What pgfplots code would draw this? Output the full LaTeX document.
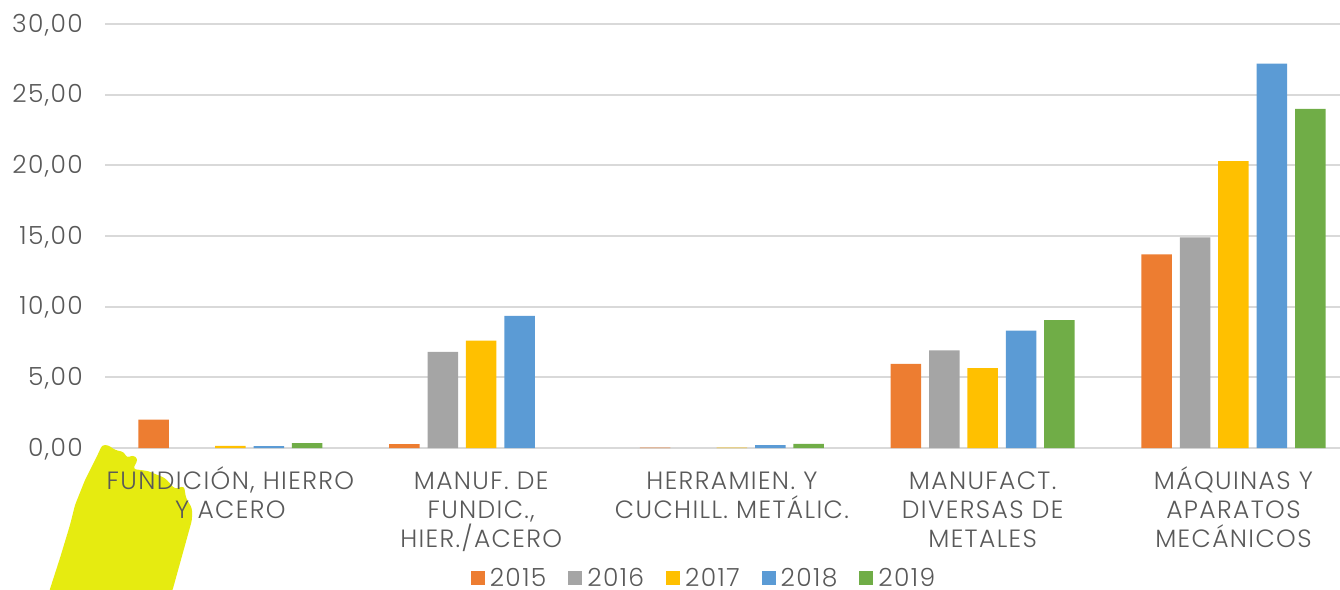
\documentclass[border=0pt]{standalone}
\usepackage{pgfplots}
\pgfplotsset{compat=1.18}
\usepackage{fontspec}
\setmainfont{Poppins Light}[LetterSpace=5.5]
\definecolor{c15}{HTML}{ED7D31}
\definecolor{c16}{HTML}{A5A5A5}
\definecolor{c17}{HTML}{FFC000}
\definecolor{c18}{HTML}{5B9BD5}
\definecolor{c19}{HTML}{70AD47}
\definecolor{gridc}{HTML}{D9D9D9}
\definecolor{txt}{HTML}{595959}
\definecolor{blob}{HTML}{E6EB10}
\newcommand{\ls}{\rule{0pt}{32pt}}
\pgfplotsset{common/.style={
  at={(105pt,-448pt)},anchor=south west,
  width=1235pt,height=424pt,scale only axis,
  xmin=-0.5,xmax=4.425,ymin=0,ymax=30,
  clip=false,
}}
\begin{document}
\begin{tikzpicture}[x=1pt,y=1pt]
\useasboundingbox (0,-589) rectangle (1340,0);
\begin{axis}[common,
  ybar,
  axis x line*=bottom, axis y line*=left,
  x axis line style={draw=gridc,line width=2.4pt,-},
  y axis line style={draw=none},
  tick style={draw=none},
  grid=none, ymajorgrids=true,
  grid style={draw=gridc,line width=2pt},
  ytick={0,5,10,15,20,25,30},
  xtick=\empty,
  yticklabel style={text=txt,font=\fontsize{25}{29}\selectfont,inner sep=0pt,anchor=east,xshift=-22pt,yshift=-1pt},
  /pgf/number format/.cd,fixed,fixed zerofill,precision=2,use comma,assume math mode=true,
  /pgfplots/.cd,
  bar width=30.5pt,
  legend style={at={(0.485,-0.307)},anchor=center,draw=none,fill=none,
    legend columns=-1,font=\fontsize{25}{29}\selectfont,text=txt,inner sep=0pt,
    /tikz/every even column/.style={column sep=20pt},
    /tikz/every odd column/.style={column sep=3pt}},
  legend image code/.code={\fill[#1] (0pt,-7pt) rectangle (14pt,7pt);},
]
\addplot[fill=c15,draw=none,bar shift=-76.8pt] coordinates {(0,2.0)(1,0.27)(2,0.03)(3,5.95)(4,13.7)};
\addplot[fill=c16,draw=none,bar shift=-38.4pt] coordinates {(1,6.8)(3,6.9)(4,14.9)};
\addplot[fill=c17,draw=none,bar shift=0pt] coordinates {(0,0.15)(1,7.6)(2,0.03)(3,5.65)(4,20.3)};
\addplot[fill=c18,draw=none,bar shift=38.4pt] coordinates {(0,0.13)(1,9.35)(2,0.2)(3,8.3)(4,27.2)};
\addplot[fill=c19,draw=none,bar shift=76.8pt] coordinates {(0,0.35)(2,0.3)(3,9.05)(4,24.0)};
\legend{2015,2016,2017,2018,2019}
\end{axis}
\begin{scope}[y=-1pt]
\fill[blob,rounded corners=3pt] (99,452)--(102,445)--(108,445)--(115,450)--(124,452)--(127,458)--(133,455)--(138,459)--(133,469)--(148,471)--(165,478)--(175,489)--(184,486)--(186,498)--(192,508)--(192,520)--(172,592)--(49,592)--(60,558)--(70,525)--(75,505)--(85,480)--cycle;
\end{scope}
\begin{axis}[common,
  axis y line=none,
  axis x line=bottom,
  x axis line style={draw=none,-},
  tick style={draw=none},
  ytick=\empty,
  xtick={0,1,2,3,4},
  xticklabels={{\ls FUNDICIÓN, HIERRO\\Y ACERO},{\ls MANUF. DE\\FUNDIC.,\\HIER./ACERO},{\ls HERRAMIEN. Y\\CUCHILL. METÁLIC.},{\ls MANUFACT.\\DIVERSAS DE\\METALES},{\ls MÁQUINAS Y\\APARATOS\\MECÁNICOS}},
  xticklabel style={text=txt,font=\fontsize{25}{29}\selectfont,align=center,anchor=north,inner sep=0pt,yshift=-7pt},
]
\addplot[draw=none] coordinates {(0,0)(4,0)};
\end{axis}
\end{tikzpicture}
\end{document}
